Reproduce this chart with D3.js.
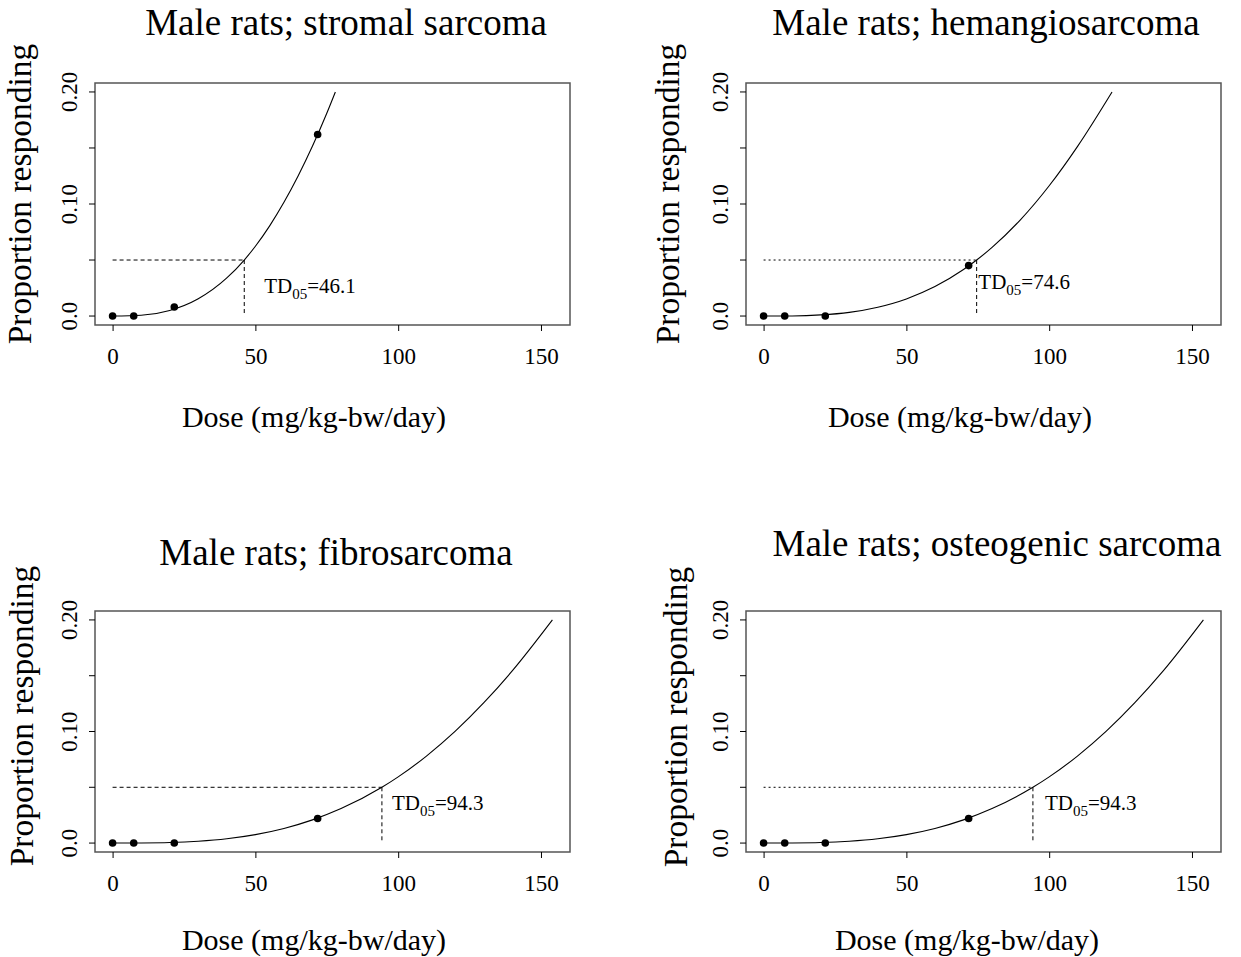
<!DOCTYPE html>
<html>
<head>
<meta charset="utf-8">
<script src="https://cdn.jsdelivr.net/npm/d3@7"></script>
<style>
    body { margin: 0; background: #fff; }
    svg { font-family: "Liberation Serif", "Times New Roman", serif; }
</style>
</head>
<body>
<svg width="1241" height="957"></svg>
<script>

// Panel titles
var titles = ["Male rats; stromal sarcoma", "Male rats; hemangiosarcoma",
    "Male rats; fibrosarcoma", "Male rats; osteogenic sarcoma"];

// Observed doses and proportions
var doses = [0, 7.4, 21.6, 71.8];
var stromalObs = [0, 0, 0.008, 0.162];
var hemangioObs = [0, 0, 0, 0.045];
var fibroObs = [0, 0, 0, 0.022];
var osteoObs = [0, 0, 0, 0.022];

// TD05 values
var td05 = [46.1, 74.6, 94.3, 94.3];

// Fitted curves
var stromalCurveDose = [0, 10, 20, 30, 40, 46.1, 50, 55, 60, 65, 70, 75, 78];
var stromalCurveP = [0, 0.0007, 0.005, 0.0154, 0.034, 0.05, 0.0623, 0.0805, 0.1015, 0.1252, 0.1517, 0.181, 0.2];
var hemangioCurveDose = [0, 10, 20, 30, 40, 50, 60, 70, 74.6, 80, 90, 100, 110, 122];
var hemangioCurveP = [0, 0.0001, 0.001, 0.0033, 0.0079, 0.0153, 0.0263, 0.0415, 0.05, 0.0613, 0.0861, 0.1163, 0.1517, 0.2];
var fibroCurveDose = [0, 10, 20, 30, 40, 50, 60, 70, 80, 94.3, 100, 110, 120, 130, 140, 154];
var fibroCurveP = [0, 0.0001, 0.0005, 0.0017, 0.0039, 0.0076, 0.0131, 0.0208, 0.0309, 0.05, 0.0593, 0.0782, 0.1003, 0.1258, 0.1545, 0.2];
var osteoCurveDose = fibroCurveDose;
var osteoCurveP = fibroCurveP;

// Axis ticks
var xTicks = [0, 50, 100, 150];
var yTicks = [0, 0.05, 0.10, 0.15, 0.20];
var yTickLabels = ["0.0", "", "0.10", "", "0.20"];

var xLabel = "Dose (mg/kg-bw/day)";
var yLabel = "Proportion responding";

// Layout of each panel (box position and text placement)
var panels = [
    { obs: stromalObs, cd: stromalCurveDose, cp: stromalCurveP,
      left: 95, top: 83, bottom: 325, titleX: 346, titleY: 35, xlabX: 314, xlabY: 427, ylabX: 31, ylabY: 194,
      hDash: "4,3", tdDx: 7, tdP: 0.021 },
    { obs: hemangioObs, cd: hemangioCurveDose, cp: hemangioCurveP,
      left: 746, top: 83, bottom: 325, titleX: 986, titleY: 35, xlabX: 960, xlabY: 427, ylabX: 679, ylabY: 194,
      hDash: "2,3", tdDx: 0.6, tdP: 0.0245 },
    { obs: fibroObs, cd: fibroCurveDose, cp: fibroCurveP,
      left: 95, top: 611, bottom: 852, titleX: 336, titleY: 565, xlabX: 314, xlabY: 950, ylabX: 33, ylabY: 716,
      hDash: "4,3", tdDx: 3.5, tdP: 0.030 },
    { obs: osteoObs, cd: osteoCurveDose, cp: osteoCurveP,
      left: 746, top: 611, bottom: 852, titleX: 997, titleY: 556, xlabX: 967, xlabY: 950, ylabX: 687, ylabY: 717,
      hDash: "2,3", tdDx: 4.2, tdP: 0.030 }
];
var boxWidth = 475;

var svg = d3.select("svg");

panels.forEach(function (p, i) {

    // R-style axis ranges (4% padding)
    var x = d3.scaleLinear().domain([-6.16, 160.16]).range([p.left, p.left + boxWidth]);
    var y = d3.scaleLinear().domain([-0.008, 0.208]).range([p.bottom, p.top]);

    var g = svg.append("g");

    // plot box
    g.append("rect")
        .attr("x", p.left)
        .attr("y", p.top)
        .attr("width", boxWidth)
        .attr("height", p.bottom - p.top)
        .attr("fill", "none")
        .attr("stroke", "#555")
        .attr("stroke-width", 1.5);

    // x axis
    var xAxis = g.append("g")
        .attr("transform", "translate(0," + p.bottom + ")")
        .call(d3.axisBottom(x).tickValues(xTicks).tickSize(6).tickPadding(17).tickSizeOuter(0));
    xAxis.select(".domain").remove();
    xAxis.selectAll("text")
        .attr("font-family", "Liberation Serif")
        .attr("font-size", 23)
        .attr("fill", "#000");

    // y axis, labels rotated as in R
    var yAxis = g.append("g")
        .attr("transform", "translate(" + p.left + ",0)")
        .call(d3.axisLeft(y).tickValues(yTicks).tickSize(6).tickFormat(function (d, k) { return yTickLabels[k]; }));
    yAxis.select(".domain").remove();
    yAxis.selectAll("text")
        .attr("font-family", "Liberation Serif")
        .attr("font-size", 23)
        .attr("fill", "#000")
        .attr("text-anchor", "middle")
        .attr("dy", 0)
        .attr("x", 0)
        .attr("transform", function (d) { return "translate(-18," + y(d) + ") rotate(-90)"; })
        .attr("y", 0);
    yAxis.selectAll(".tick")
        .attr("transform", function () { return "translate(0,0)"; });
    yAxis.selectAll(".tick line")
        .attr("y1", function (d) { return y(d); })
        .attr("y2", function (d) { return y(d); });

    // dashed guide lines at TD05
    g.append("line")
        .attr("x1", x(0))
        .attr("x2", x(td05[i]))
        .attr("y1", y(0.05))
        .attr("y2", y(0.05))
        .attr("stroke", "#000")
        .attr("stroke-width", 1)
        .attr("stroke-dasharray", p.hDash);
    g.append("line")
        .attr("x1", x(td05[i]))
        .attr("x2", x(td05[i]))
        .attr("y1", y(0.05))
        .attr("y2", y(0))
        .attr("stroke", "#000")
        .attr("stroke-width", 1)
        .attr("stroke-dasharray", "4,3");

    // fitted curve
    var curve = p.cd.map(function (d, k) { return [d, p.cp[k]]; });
    g.append("path")
        .datum(curve)
        .attr("fill", "none")
        .attr("stroke", "#000")
        .attr("stroke-width", 1.1)
        .attr("d", d3.line()
            .x(function (d) { return x(d[0]); })
            .y(function (d) { return y(d[1]); })
            .curve(d3.curveMonotoneX));

    // observed points
    g.selectAll("circle.obs")
        .data(doses)
        .enter().append("circle")
        .attr("class", "obs")
        .attr("cx", function (d) { return x(d); })
        .attr("cy", function (d, k) { return y(p.obs[k]); })
        .attr("r", 3.8)
        .attr("fill", "#000");

    // TD05 label
    var td = g.append("text")
        .attr("x", x(td05[i] + p.tdDx))
        .attr("y", y(p.tdP))
        .attr("font-size", 21)
        .attr("fill", "#000");
    td.append("tspan").text("TD");
    td.append("tspan").attr("font-size", 15).attr("dy", 6).text("05");
    td.append("tspan").attr("dy", -6).text("=" + td05[i].toFixed(1));

    // title
    g.append("text")
        .attr("x", p.titleX)
        .attr("y", p.titleY)
        .attr("text-anchor", "middle")
        .attr("font-size", 37)
        .attr("fill", "#000")
        .text(titles[i]);

    // axis labels
    g.append("text")
        .attr("x", p.xlabX)
        .attr("y", p.xlabY)
        .attr("text-anchor", "middle")
        .attr("font-size", 30)
        .attr("fill", "#000")
        .text(xLabel);
    g.append("text")
        .attr("transform", "translate(" + p.ylabX + "," + p.ylabY + ") rotate(-90)")
        .attr("text-anchor", "middle")
        .attr("font-size", 33.5)
        .attr("fill", "#000")
        .text(yLabel);
});

</script>
</body>
</html>
